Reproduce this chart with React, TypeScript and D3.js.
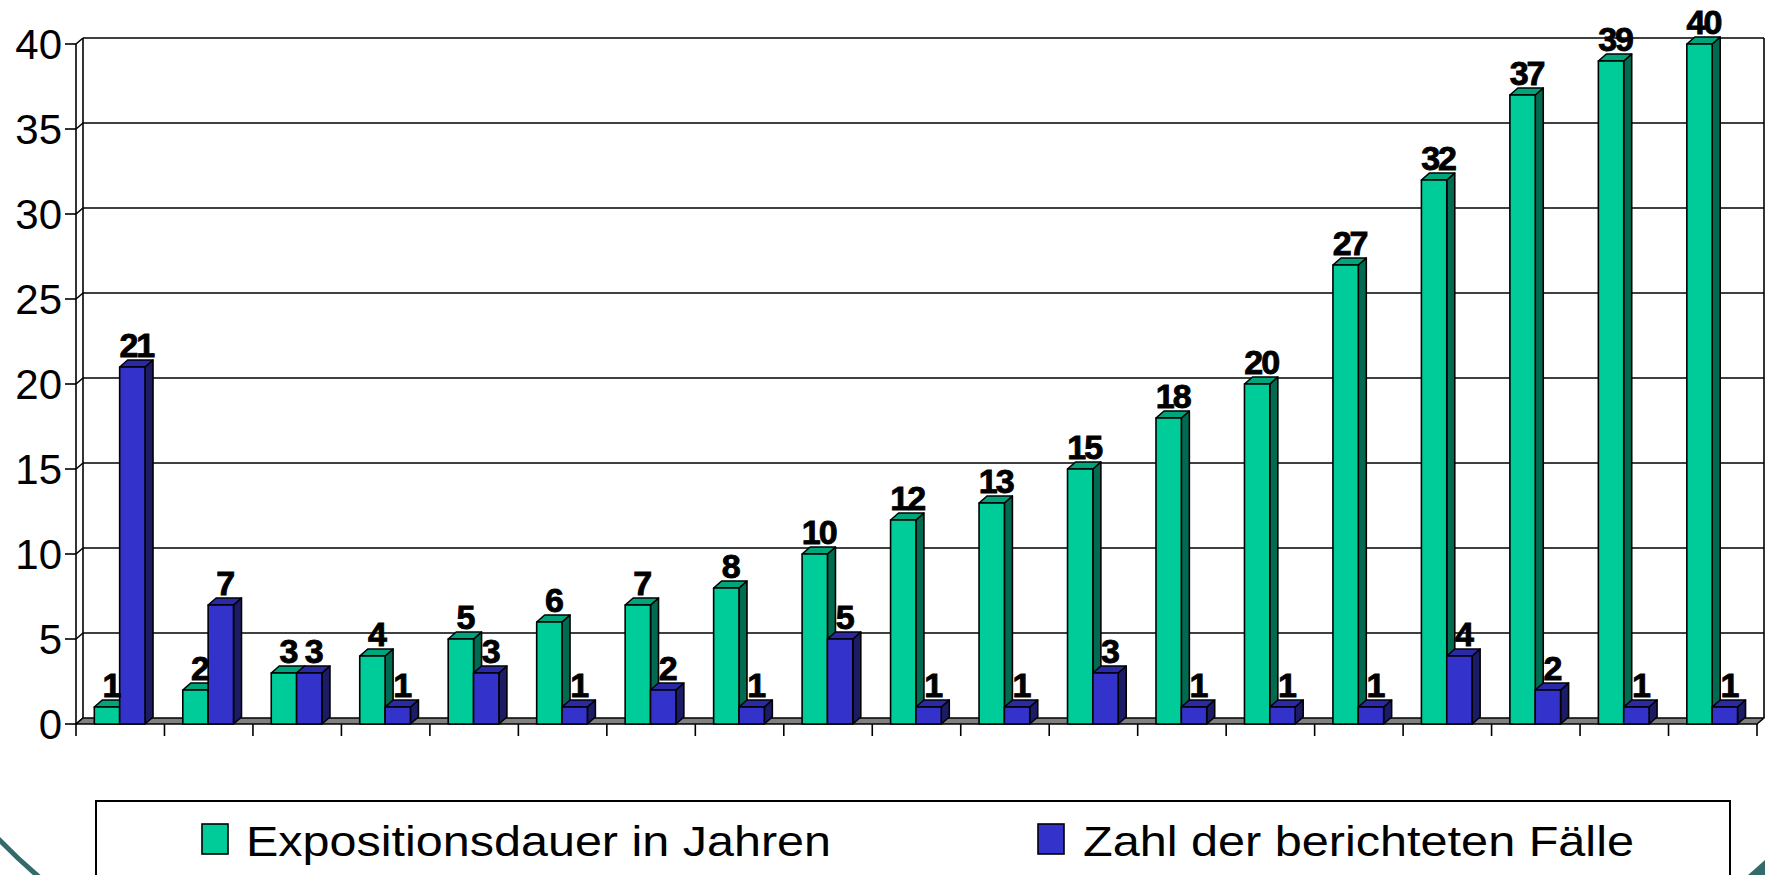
import { useEffect, useRef } from "react";
import * as d3 from "d3";

// chart data
const categories = ["1", "2", "3", "4", "5", "6", "7", "8", "9", "10", "11", "12", "13", "14", "15", "16", "17", "18", "19"];
const expositionsdauer = [1, 2, 3, 4, 5, 6, 7, 8, 10, 12, 13, 15, 18, 20, 27, 32, 37, 39, 40];
const faelle = [21, 7, 3, 1, 3, 1, 2, 1, 5, 1, 1, 3, 1, 1, 1, 4, 2, 1, 1];
const yTicks = [0, 5, 10, 15, 20, 25, 30, 35, 40];
const seriesNames = ["Expositionsdauer in Jahren", "Zahl der berichteten Fälle"];

const FONT = "'Liberation Sans', Arial, sans-serif";

export default function App() {
    const ref = useRef<SVGSVGElement | null>(null);

    useEffect(() => {
        const svg = d3.select(ref.current);
        svg.selectAll("*").remove();

        const left = 76, right = 1757, bottom = 724, top = 44;
        const wdx = 7, wdy = 6;   // wall depth
        const bdx = 8, bdy = 7;   // bar depth

        const y = d3.scaleLinear().domain([0, 40]).range([bottom, top]);
        const x0 = d3.scaleBand<string>().domain(categories).range([left, right]);
        const bw = x0.bandwidth();
        const x1 = d3.scaleBand<string>().domain(seriesNames).range([bw * 0.207, bw * 0.78]);

        const colors = [
            { front: "#00cc99", top: "#00a57c", side: "#006b50" },
            { front: "#3333cc", top: "#2a2aa6", side: "#1c1c66" },
        ];

        const g = svg.append("g");

        // back wall gridlines
        yTicks.forEach(v => {
            if (v > 0) {
                g.append("line")
                    .attr("x1", left + wdx).attr("x2", right + wdx)
                    .attr("y1", y(v) - wdy).attr("y2", y(v) - wdy)
                    .attr("stroke", "#000").attr("stroke-width", 1.6);
            }
            g.append("line")
                .attr("x1", left).attr("x2", left + wdx)
                .attr("y1", y(v)).attr("y2", y(v) - wdy)
                .attr("stroke", "#000").attr("stroke-width", 1.6);
            g.append("line")
                .attr("x1", left - 11).attr("x2", left)
                .attr("y1", y(v)).attr("y2", y(v))
                .attr("stroke", "#000").attr("stroke-width", 1.6);
            g.append("text")
                .attr("x", 62).attr("y", y(v) + 15)
                .attr("text-anchor", "end")
                .attr("font-family", FONT).attr("font-size", 42)
                .text(v);
        });

        // walls
        g.append("line")
            .attr("x1", right + wdx).attr("x2", right + wdx)
            .attr("y1", y(40) - wdy).attr("y2", bottom - wdy)
            .attr("stroke", "#000").attr("stroke-width", 1.6);
        g.append("line")
            .attr("x1", left + wdx).attr("x2", left + wdx)
            .attr("y1", y(40) - wdy).attr("y2", bottom - wdy)
            .attr("stroke", "#000").attr("stroke-width", 1.6);
        g.append("line")
            .attr("x1", left).attr("x2", left)
            .attr("y1", y(40)).attr("y2", bottom)
            .attr("stroke", "#000").attr("stroke-width", 1.6);

        // floor
        g.append("polygon")
            .attr("points", [[left, bottom], [left + wdx, bottom - wdy], [right + wdx, bottom - wdy], [right, bottom]].map(p => p.join(",")).join(" "))
            .attr("fill", "#808080").attr("stroke", "#000").attr("stroke-width", 1.6)
            .attr("stroke-linejoin", "round");

        // x ticks
        const bounds = categories.map(c => x0(c) as number).concat([right]);
        bounds.forEach(bx => {
            g.append("line")
                .attr("x1", bx).attr("x2", bx)
                .attr("y1", bottom).attr("y2", bottom + 12)
                .attr("stroke", "#000").attr("stroke-width", 1.6);
        });

        // bars
        const series = [expositionsdauer, faelle];
        const labels: { x: number; y: number; v: number }[] = [];
        categories.forEach((c, i) => {
            series.forEach((vals, s) => {
                const v = vals[i];
                const bx = (x0(c) as number) + (x1(seriesNames[s]) as number);
                const w = x1.bandwidth();
                const yt = y(v);
                const col = colors[s];
                const bar = g.append("g")
                    .attr("stroke", "#000").attr("stroke-width", 1.6)
                    .attr("stroke-linejoin", "round");
                bar.append("polygon")
                    .attr("points", [[bx + w, yt], [bx + w + bdx, yt - bdy], [bx + w + bdx, bottom - bdy], [bx + w, bottom]].map(p => p.join(",")).join(" "))
                    .attr("fill", col.side);
                bar.append("polygon")
                    .attr("points", [[bx, yt], [bx + bdx, yt - bdy], [bx + w + bdx, yt - bdy], [bx + w, yt]].map(p => p.join(",")).join(" "))
                    .attr("fill", col.top);
                bar.append("rect")
                    .attr("x", bx).attr("y", yt)
                    .attr("width", w).attr("height", bottom - yt)
                    .attr("fill", col.front);
                labels.push({ x: bx + w / 2 + bdx / 2, y: yt - bdy - 3, v });
            });
        });

        // data labels
        g.selectAll("text.lbl")
            .data(labels)
            .join("text")
            .attr("class", "lbl")
            .attr("x", d => d.x).attr("y", d => d.y)
            .attr("text-anchor", "middle")
            .attr("font-family", FONT).attr("font-size", 34).attr("font-weight", "bold")
            .attr("letter-spacing", -2)
            .attr("stroke", "#000").attr("stroke-width", 0.9)
            .text(d => d.v);

        // legend
        const lg = svg.append("g");
        lg.append("rect")
            .attr("x", 96).attr("y", 801).attr("width", 1730 - 96).attr("height", 100)
            .attr("fill", "#fff").attr("stroke", "#000").attr("stroke-width", 2);
        const items = [
            { sx: 202, tx: 246, len: 585, col: colors[0].front, name: seriesNames[0] },
            { sx: 1038, tx: 1083, len: 551, col: colors[1].front, name: seriesNames[1] },
        ];
        items.forEach(it => {
            lg.append("rect")
                .attr("x", it.sx).attr("y", 824).attr("width", 26).attr("height", 30)
                .attr("fill", it.col).attr("stroke", "#000").attr("stroke-width", 1.6);
            lg.append("text")
                .attr("x", it.tx).attr("y", 856)
                .attr("font-family", FONT).attr("font-size", 42)
                .attr("textLength", it.len).attr("lengthAdjust", "spacingAndGlyphs")
                .text(it.name);
        });

        // slide decoration
        svg.append("path")
            .attr("d", "M -10 830 A 560 560 0 0 0 55 890")
            .attr("fill", "none").attr("stroke", "#336b6b").attr("stroke-width", 5);
        svg.append("polygon")
            .attr("points", "1765,860 1765,875 1748,875")
            .attr("fill", "#336b6b");
    }, []);

    return (
        <svg
            ref={ref}
            width={1765}
            height={875}
            style={{ position: "absolute", left: 0, top: 0, background: "#fff" }}
        />
    );
}
